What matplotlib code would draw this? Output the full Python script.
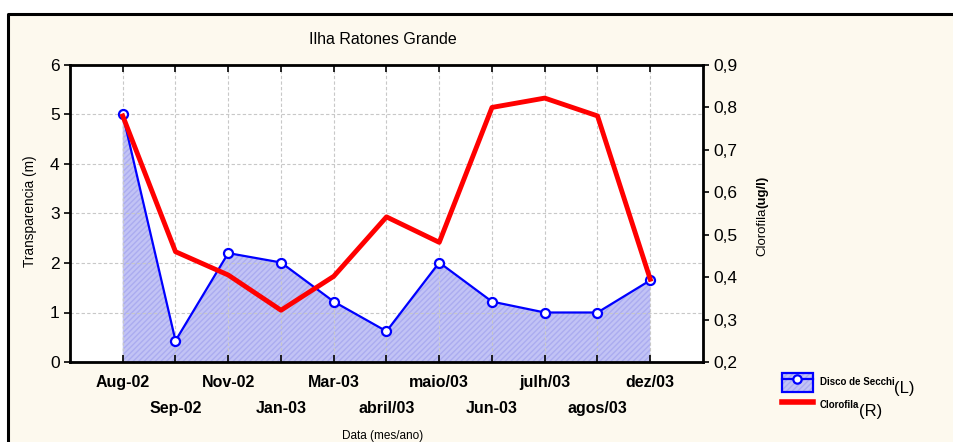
import matplotlib
matplotlib.use("Agg")
import matplotlib.pyplot as plt
from matplotlib.patches import Patch, Rectangle
from matplotlib.lines import Line2D

# data
meses = ["Aug-02", "Sep-02", "Nov-02", "Jan-03", "Mar-03", "abril/03",
         "maio/03", "Jun-03", "julh/03", "agos/03", "dez/03"]
secchi = [5.0, 0.43, 2.2, 2.01, 1.22, 0.62, 2.01, 1.22, 1.0, 1.0, 1.65]
clorofila = [0.78, 0.46, 0.405, 0.322, 0.402, 0.542, 0.482, 0.80, 0.822, 0.78, 0.395]

font = ["Liberation Sans", "DejaVu Sans"]
creme = "#fdf9ee"

fig = plt.figure(figsize=(9.54, 4.42), dpi=100, facecolor="white")

# outer frame: cream panel with a black top/left border
fig.patches.append(Rectangle((8.5 / 954, -0.05), 1.0, 1 - 14 / 442 + 0.05,
                             transform=fig.transFigure, facecolor=creme,
                             edgecolor="none", zorder=-2))
fig.lines.append(Line2D([8.5 / 954, 8.5 / 954, 1.0],
                        [0, 1 - 14 / 442, 1 - 14 / 442],
                        transform=fig.transFigure, color="black", lw=2.2,
                        zorder=-1))

ax = fig.add_axes([70 / 954, 1 - 362 / 442, 633 / 954, 297 / 442])
ax.set_facecolor("white")
x = list(range(len(meses)))

ax.fill_between(x, secchi, 0, facecolor="#c2c3f5", edgecolor="#abacf0",
                hatch="//////", lw=0, zorder=1)
ax.plot(x, secchi, color="#0000ff", lw=1.6, marker="o", ms=6.5,
        mfc="white", mec="#0000ff", mew=1.6, zorder=4)

ax.set_xlim(-1, 11)
ax.set_ylim(0, 6)
ax.set_yticks(range(7))
ax.set_yticklabels([str(v) for v in range(7)], family=font, fontsize=12.5)
ax.set_xticks(x)
ax.set_xticklabels([])
for i, m in enumerate(meses):
    off = -0.07 if i % 2 == 0 else -0.155
    ax.text(i, off, m, transform=ax.get_xaxis_transform(), ha="center",
            va="center", family=font, fontsize=11.5, fontweight="bold")

ax.grid(True, color="#c8c8c8", ls=(0, (3, 2)), lw=0.8)
ax.tick_params(axis="x", direction="in", top=True, length=5, width=1.2)
ax.tick_params(axis="y", direction="out", length=4, width=1.2)
for s in ax.spines.values():
    s.set_linewidth(2)

ax2 = ax.twinx()
ax2.plot(x, clorofila, color="#ff0000", lw=3.5, zorder=3)
ax2.set_ylim(0.2, 0.9)
rt = [0.2, 0.3, 0.4, 0.5, 0.6, 0.7, 0.8, 0.9]
ax2.set_yticks(rt)
ax2.set_yticklabels([("%.1f" % v).replace(".", ",") for v in rt],
                    family=font, fontsize=12.5)
ax2.tick_params(axis="y", direction="out", length=4, width=1.2)
ax2.patch.set_visible(False)

fig.text(383 / 954, 1 - 40 / 442, "Ilha Ratones Grande", ha="center",
         va="center", family=font, fontsize=11.5)
fig.text(383 / 954, 1 - 436 / 442, "Data (mes/ano)", ha="center",
         va="center", family=font, fontsize=8.5)
fig.text(30 / 954, 1 - 211 / 442, "Transparencia (m)", ha="center",
         va="center", rotation=90, family=font, fontsize=9.8)
t1 = fig.text(762 / 954, 1 - 256 / 442, "Clorofila", ha="center",
              va="bottom", rotation=90, family=font, fontsize=9.5)
fig.canvas.draw()
bb = t1.get_window_extent().transformed(fig.transFigure.inverted())
fig.text(762 / 954, bb.y1, "(ug/l)", ha="center", va="bottom",
         rotation=90, family=font, fontsize=9.5, fontweight="bold")

# legend
h1 = (Patch(facecolor="#c2c3f5", edgecolor="#abacf0", hatch="//////", lw=0),
      Patch(facecolor="none", edgecolor="#0000ff", lw=1.6),
      Line2D([], [], color="#0000ff", lw=1.6, marker="o", ms=6,
             mfc="white", mec="#0000ff", mew=1.6))
h2 = Line2D([], [], color="#ff0000", lw=4)
leg = fig.legend([h1, h2], ["Disco de Secchi", "Clorofila"],
                 loc="upper left", bbox_to_anchor=(773 / 954, 1 - 364 / 442),
                 frameon=False, handlelength=3.2, handleheight=2.6,
                 handletextpad=0.7, labelspacing=0.45,
                 prop={"family": font, "size": 7, "weight": "bold"})
fig.canvas.draw()
for txt, lab in zip(leg.get_texts(), ["(L)", "(R)"]):
    fig.add_artist(plt.Annotation(lab, xy=(1, 0.5), xycoords=txt,
                                  xytext=(0, -6), textcoords="offset pixels",
                                  ha="left", va="center", family=font,
                                  fontsize=12))

fig.savefig("out.png", dpi=100, facecolor=fig.get_facecolor())
